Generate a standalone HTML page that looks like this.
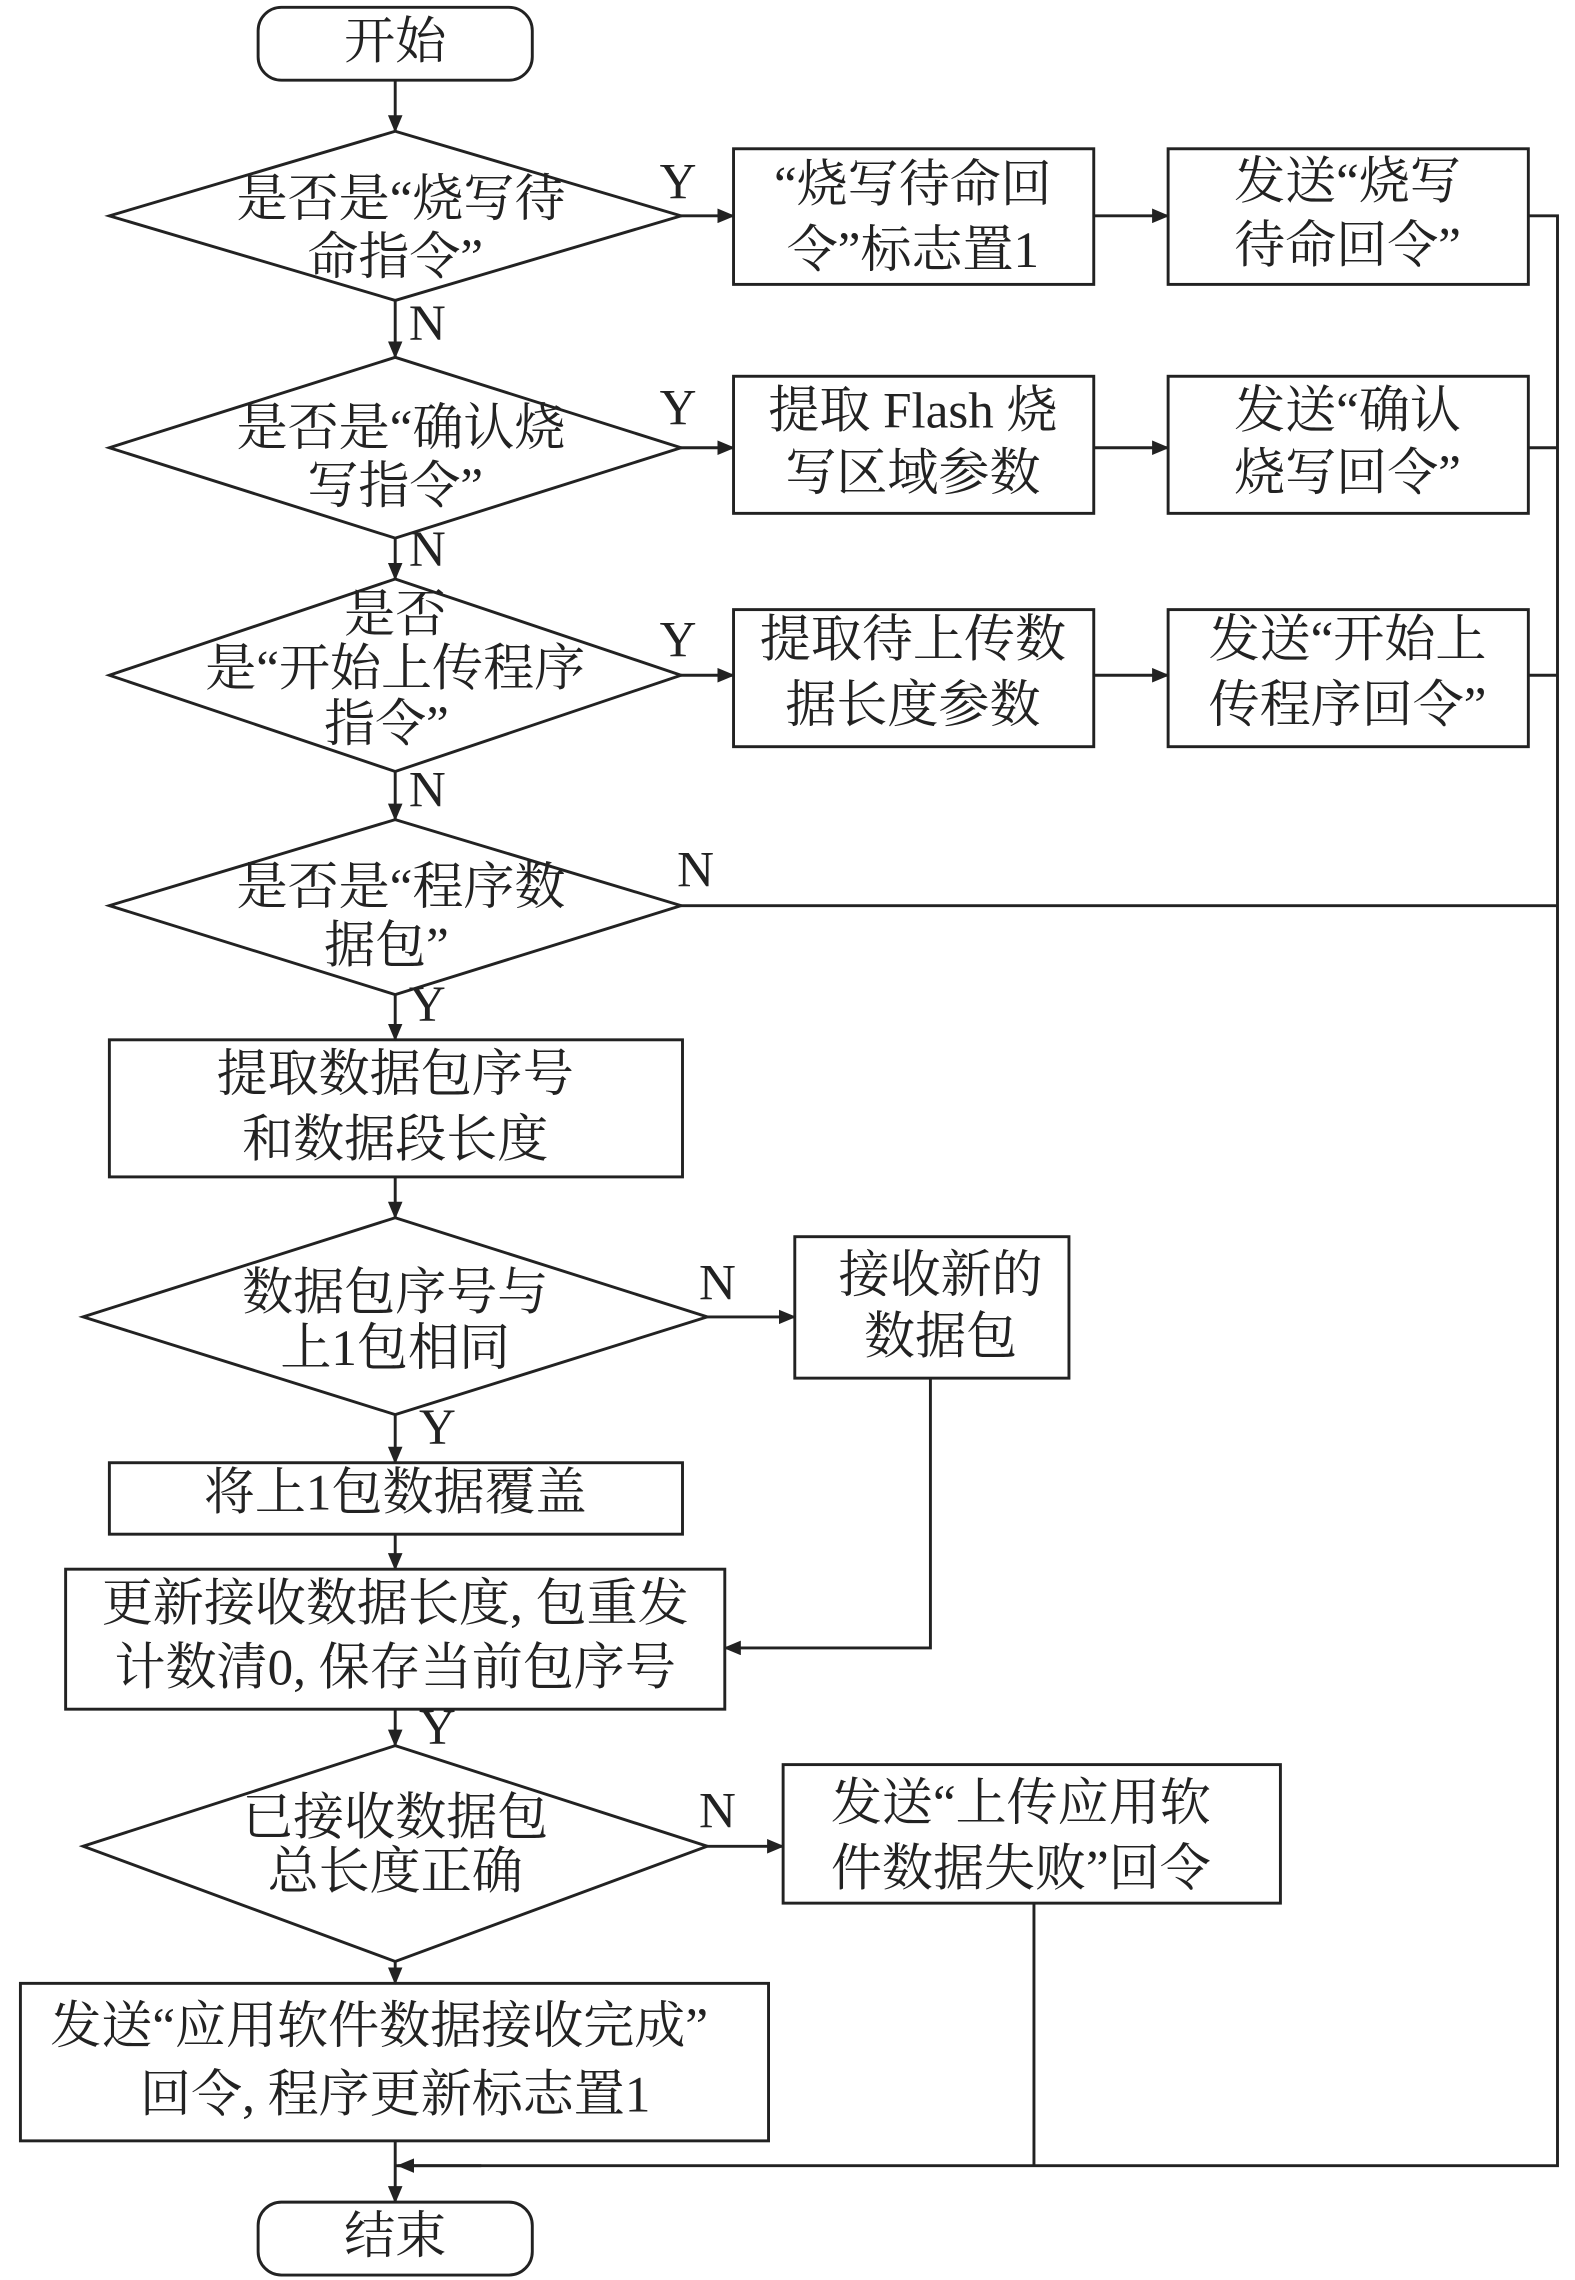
<!DOCTYPE html>
<html><head><meta charset="utf-8"><style>
html,body{margin:0;padding:0;background:#fff}
svg{display:block}
text{font-family:"Liberation Serif","Noto Serif CJK SC",serif;font-size:35px;fill:#222;text-anchor:middle;dominant-baseline:middle}
</style></head><body>
<svg width="1575" height="2280" viewBox="0 0 1080 1563.4" xmlns="http://www.w3.org/2000/svg">
<defs><marker id="a" markerWidth="12" markerHeight="10" refX="11" refY="5" orient="auto" markerUnits="userSpaceOnUse"><path d="M0,0 L12,5 L0,10 z" fill="#222"/></marker></defs>
<g stroke="#222" stroke-width="2" fill="none">
<rect x="177" y="5" width="188" height="50" rx="16"/>
<rect x="177" y="1510" width="188" height="50" rx="16"/>
<polygon points="271,90 467,148 271,206 75,148"/>
<polygon points="271,245 467,307 271,369 75,307"/>
<polygon points="271,397 467,463 271,529 75,463"/>
<polygon points="271,562 467,621 271,682 75,621"/>
<polygon points="271,835 485,903 271,970 57,903"/>
<polygon points="271,1197 485,1266 271,1345 57,1266"/>
<rect x="503" y="102" width="247" height="93"/>
<rect x="801" y="102" width="247" height="93"/>
<rect x="503" y="258" width="247" height="94"/>
<rect x="801" y="258" width="247" height="94"/>
<rect x="503" y="418" width="247" height="94"/>
<rect x="801" y="418" width="247" height="94"/>
<rect x="75" y="713" width="393" height="94"/>
<rect x="545" y="848" width="188" height="97"/>
<rect x="75" y="1003" width="393" height="49"/>
<rect x="45" y="1076" width="452" height="96"/>
<rect x="537" y="1210" width="341" height="95"/>
<rect x="14" y="1360" width="513" height="108"/>
<line x1="271" y1="55" x2="271" y2="90" marker-end="url(#a)"/>
<line x1="271" y1="206" x2="271" y2="245" marker-end="url(#a)"/>
<line x1="271" y1="369" x2="271" y2="397" marker-end="url(#a)"/>
<line x1="271" y1="529" x2="271" y2="562" marker-end="url(#a)"/>
<line x1="271" y1="682" x2="271" y2="713" marker-end="url(#a)"/>
<line x1="271" y1="807" x2="271" y2="835" marker-end="url(#a)"/>
<line x1="271" y1="970" x2="271" y2="1003" marker-end="url(#a)"/>
<line x1="271" y1="1052" x2="271" y2="1076" marker-end="url(#a)"/>
<line x1="271" y1="1172" x2="271" y2="1197" marker-end="url(#a)"/>
<line x1="271" y1="1345" x2="271" y2="1360" marker-end="url(#a)"/>
<line x1="271" y1="1468" x2="271" y2="1510" marker-end="url(#a)"/>
<line x1="467" y1="148" x2="503" y2="148" marker-end="url(#a)"/>
<line x1="750" y1="148" x2="801" y2="148" marker-end="url(#a)"/>
<line x1="467" y1="307" x2="503" y2="307" marker-end="url(#a)"/>
<line x1="750" y1="307" x2="801" y2="307" marker-end="url(#a)"/>
<line x1="467" y1="463" x2="503" y2="463" marker-end="url(#a)"/>
<line x1="750" y1="463" x2="801" y2="463" marker-end="url(#a)"/>
<line x1="485" y1="903" x2="545" y2="903" marker-end="url(#a)"/>
<line x1="485" y1="1266" x2="537" y2="1266" marker-end="url(#a)"/>
<polyline points="1048,148 1068,148 1068,1485 271,1485"/>
<line x1="1048" y1="307" x2="1068" y2="307"/>
<line x1="1048" y1="463" x2="1068" y2="463"/>
<line x1="467" y1="621" x2="1068" y2="621"/>
<line x1="330" y1="1485" x2="273" y2="1485" marker-end="url(#a)"/>
<line x1="709" y1="1305" x2="709" y2="1485"/>
<polyline points="638,945 638,1130 497,1130" marker-end="url(#a)"/>
</g>
<text x="271" y="32">开始</text>
<text x="271" y="1537">结束</text>
<text x="275" y="140">是否是“烧写待</text><text x="271" y="180">命指令”</text>
<text x="275" y="297">是否是“确认烧</text><text x="271" y="337">写指令”</text>
<text x="271" y="425">是否</text><text x="271" y="462">是“开始上传程序</text><text x="265" y="500">指令”</text>
<text x="275" y="612">是否是“程序数</text><text x="265" y="652">据包”</text>
<text x="626" y="130">“烧写待命回</text><text x="626" y="175">令”标志置1</text>
<text x="924" y="128">发送“烧写</text><text x="924" y="172">待命回令”</text>
<text x="626" y="285">提取 Flash 烧</text><text x="626" y="328">写区域参数</text>
<text x="924" y="285">发送“确认</text><text x="924" y="328">烧写回令”</text>
<text x="626" y="442">提取待上传数</text><text x="626" y="487">据长度参数</text>
<text x="924" y="442">发送“开始上</text><text x="924" y="487">传程序回令”</text>
<text x="271" y="740">提取数据包序号</text><text x="271" y="785">和数据段长度</text>
<text x="271" y="890">数据包序号与</text><text x="271" y="928">上1包相同</text>
<text x="645" y="878">接收新的</text><text x="645" y="920">数据包</text>
<text x="271" y="1027">将上1包数据覆盖</text>
<text x="271" y="1103">更新接收数据长度, 包重发</text><text x="271" y="1147">计数清0, 保存当前包序号</text>
<text x="271" y="1250">已接收数据包</text><text x="271" y="1287">总长度正确</text>
<text x="700" y="1240">发送“上传应用软</text><text x="700" y="1285">件数据失败”回令</text>
<text x="260" y="1393">发送“应用软件数据接收完成”</text><text x="271" y="1440">回令, 程序更新标志置1</text>
<text x="465" y="128">Y</text><text x="465" y="283">Y</text><text x="465" y="442">Y</text>
<text x="293" y="225">N</text><text x="293" y="380">N</text><text x="293" y="545">N</text>
<text x="477" y="600">N</text><text x="293" y="692">Y</text>
<text x="492" y="883">N</text><text x="300" y="982">Y</text>
<text x="300" y="1188">Y</text><text x="492" y="1245">N</text>
</svg>
</body></html>
